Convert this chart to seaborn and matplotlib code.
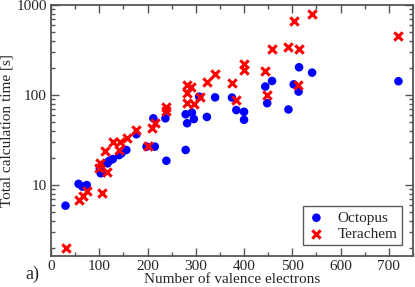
import pandas as pd
import seaborn as sns
import matplotlib
matplotlib.use("Agg")
import matplotlib.pyplot as plt
import matplotlib.ticker as ticker
from matplotlib.font_manager import FontProperties

# Octopus timings (valence electrons, seconds)
octopus_x = [30, 57, 65, 74, 101, 103, 116, 117, 121, 128, 141, 146, 156, 177,
             198, 212, 215, 237, 239, 279, 279, 282, 292, 296, 307, 323, 340,
             375, 384, 400, 400, 444, 448, 458, 492, 503, 513, 514, 541, 720]
octopus_y = [5.9, 10.3, 9.6, 10.0, 15.3, 13.5, 17.7, 17.4, 18.6, 19.4, 21.5, 22.5,
             24.5, 36.6, 26.7, 55, 26.7, 55, 18.6, 24.5, 61, 48.5, 63.6, 54, 95.7,
             57, 94, 93.5, 68, 65, 53, 124, 81, 143, 69, 131, 109, 203, 177, 142]

# Terachem timings
terachem_x = [30, 58, 67, 74, 99, 101, 105, 112, 117, 128, 141, 143, 157, 177,
              200, 210, 215, 239, 239, 281, 281, 281, 291, 296, 308, 324, 340,
              375, 384, 400, 400, 444, 448, 458, 492, 503, 512, 513, 541, 720]
terachem_y = [2.0, 6.8, 7.6, 8.6, 15.3, 17.4, 8.2, 24, 14.1, 30.3, 24.5, 30.3,
              33.6, 40.8, 27, 42.7, 49, 67, 74, 129, 106, 82, 124, 79, 94, 140,
              172, 135, 89, 220, 190, 184, 99, 324, 339, 670, 129, 324, 794, 456]

df = pd.concat([
    pd.DataFrame({"electrons": octopus_x, "time": octopus_y, "code": "Octopus"}),
    pd.DataFrame({"electrons": terachem_x, "time": terachem_y, "code": "Terachem"}),
])

sns.set_style("ticks")
serif = ["Liberation Serif", "DejaVu Serif"]
plt.rcParams["font.family"] = serif
plt.rcParams["font.serif"] = serif

fig = plt.figure(figsize=(4.15, 2.87), dpi=100)
ax = fig.add_axes([0.123, 0.108, 0.872, 0.875])

sns.scatterplot(data=df[df.code == "Octopus"], x="electrons", y="time",
                marker="o", color="#0000ff", s=38, edgecolor="none",
                label="Octopus", ax=ax, zorder=3)
sns.scatterplot(data=df[df.code == "Terachem"], x="electrons", y="time",
                marker="x", color="#ff0000", s=36, linewidth=2.2,
                label="Terachem", ax=ax, zorder=4)

ax.set_yscale("log")
ax.set_xlim(0, 750)
ax.set_ylim(1.63, 1000)
ax.xaxis.set_major_locator(ticker.MultipleLocator(100))
ax.xaxis.set_minor_locator(ticker.MultipleLocator(50))
ax.yaxis.set_major_locator(ticker.LogLocator(base=10))
ax.yaxis.set_minor_locator(ticker.LogLocator(base=10, subs=range(2, 10)))
ax.yaxis.set_major_formatter(ticker.FuncFormatter(lambda v, p: f"{v:g}"))
ax.yaxis.set_minor_formatter(ticker.NullFormatter())

ax.tick_params(which="both", direction="in", top=True, right=True,
               color="#555555", labelsize=11, pad=3)
ax.tick_params(which="major", length=6, width=1)
ax.tick_params(which="minor", length=3, width=1)
for sp in ax.spines.values():
    sp.set_color("#555555")
    sp.set_linewidth(1.3)

ax.set_xlabel("Number of valence electrons", fontsize=11, labelpad=0)
ax.set_ylabel("Total calculation time [s]", fontsize=11, labelpad=2)

leg = ax.legend(loc="lower right", prop=FontProperties(family="Liberation Serif", size=11),
                frameon=True, fancybox=False,
                borderpad=0.3, labelspacing=0.15, handletextpad=0.8,
                handlelength=1.2, borderaxespad=0.7)
leg.get_frame().set_edgecolor("#333333")
leg.get_frame().set_linewidth(1.0)

# panel label, placed in figure pixels
ax.annotate("a)", xy=(25, 8), xycoords="figure pixels", fontsize=13,
            fontproperties=FontProperties(family="Liberation Serif", size=13),
            annotation_clip=False)

fig.savefig("out.png", dpi=100)
